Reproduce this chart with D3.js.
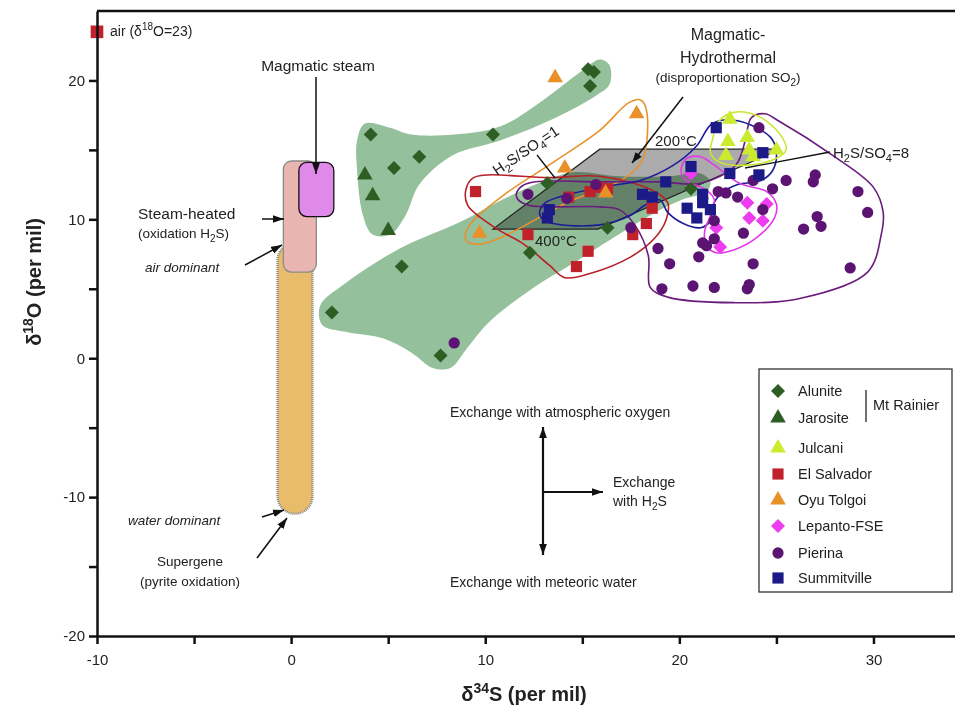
<!DOCTYPE html>
<html>
<head>
<meta charset="UTF-8">
<title>Sulfate isotopes</title>
<script src="https://d3js.org/d3.v7.min.js"></script>
<style>
  body { margin: 0; background: #fff; }
  text { font-family: "Liberation Sans", Arial, Helvetica, sans-serif; fill: #222; }
  .tick text { font-size: 15px; fill: #222; }
  .tick line, .domain { stroke: #111; stroke-width: 2.5; }
</style>
</head>
<body>
<svg id="chart" width="955" height="713"></svg>
<script>
  // ---- data (delta34S, delta18O) ----
  var alunite = [[15.3,20.8],[15.6,20.6],[15.4,19.6],[4.1,16.1],[10.4,16.1],[6.6,14.5],[5.3,13.7],
    [13.2,12.6],[16.3,9.4],[12.3,7.6],[5.7,6.6],[2.1,3.3],[7.7,0.2],[20.6,12.2]];
  var jarosite = [[3.8,13.2],[4.2,11.7],[5.0,9.2]];
  var julcani = [[22.6,17.2],[22.5,15.6],[23.5,15.9],[22.4,14.6],[23.6,15.0],[23.8,14.5],[25.0,15.0]];
  var elSalvador = [[9.5,12.0],[14.3,11.6],[15.4,12.0],[15.9,12.3],[16.3,12.2],[18.6,10.8],[18.3,9.7],
    [17.6,8.9],[12.2,8.9],[15.3,7.7],[14.7,6.6]];
  var oyuTolgoi = [[13.6,20.2],[17.8,17.6],[14.1,13.7],[16.2,11.9],[9.7,9.0]];
  var lepanto = [[20.6,13.3],[23.5,11.2],[24.5,11.1],[23.6,10.1],[24.3,9.9],[21.9,9.4],[22.1,8.0]];
  var pierina = [[12.2,11.8],[15.7,12.5],[14.2,11.5],[17.5,9.4],[8.4,1.1],[24.1,16.6],[25.5,12.8],
    [24.8,12.2],[23.8,12.8],[27.0,13.2],[26.9,12.7],[29.2,12.0],[29.7,10.5],[27.1,10.2],[27.3,9.5],
    [26.4,9.3],[28.8,6.5],[22.0,12.0],[22.4,11.9],[23.0,11.6],[24.3,10.7],[21.8,9.9],[23.3,9.0],
    [21.8,8.6],[21.2,8.3],[21.4,8.1],[21.0,7.3],[23.8,6.8],[19.5,6.8],[18.9,7.9],[19.1,5.0],
    [20.7,5.2],[21.8,5.1],[23.5,5.0],[23.6,5.3]];
  var summitville = [[13.3,10.7],[13.2,10.1],[18.1,11.8],[18.6,11.6],[19.3,12.7],[20.6,13.8],[21.9,16.6],
    [24.3,14.8],[22.6,13.3],[24.1,13.2],[21.2,11.8],[21.2,11.2],[21.6,10.7],[20.4,10.8],[20.9,10.1]];
  var air = [[-10, 23.5]];

  // envelopes
  var greenUpper = [[3.4,15.7],[3.8,16.9],[5.1,16.6],[6.2,16.1],[8.4,16.1],[10.8,16.7],[12.8,18.4],
    [14.9,20.6],[15.9,21.5],[16.4,21.1],[16.4,19.7],[15.7,18.9],[13.6,17.3],[10.8,15.7],[8.3,14.6],
    [6.6,12.5],[5.9,10.3],[5.1,8.9],[4.2,8.9],[3.7,10.3],[3.4,13.5]];
  var greenLower = [[1.5,3.8],[2.8,5.4],[5.6,7.9],[8.7,9.8],[11.0,11.5],[13.1,12.8],[14.6,13.4],
    [16.9,13.1],[19.5,13.1],[21.1,13.3],[21.6,12.7],[21.4,12.0],[20.1,11.4],[18.9,10.6],[16.4,8.5],
    [14.6,6.9],[12.5,5.1],[10.2,2.6],[9.0,0.6],[8.2,-0.7],[7.3,-0.7],[6.2,0.4],[4.8,1.4],[2.8,1.9],[1.6,2.4]];
  var hydroBox = [[10.4,9.3],[15.8,9.3],[25.2,15.05],[15.9,15.05]];
  var oyuEnv = [[9.0,8.5],[9.7,8.2],[11.0,8.8],[14.2,11.2],[17.0,12.8],[18.1,14.3],[18.3,17.9],
    [18.0,18.6],[17.4,18.4],[15.9,16.4],[13.5,14.1],[11.0,11.8],[9.2,9.6]];
  var salvadorEnv = [[9.0,12.1],[9.4,13.0],[13.3,13.0],[15.9,13.1],[18.6,12.1],[19.4,11.2],[19.3,9.9],
    [18.7,8.6],[17.5,7.3],[15.4,6.1],[14.1,5.8],[13.3,6.7],[12.0,8.2],[10.5,9.4],[9.1,11.0]];
  var pierinaEnv = [[11.6,11.8],[11.9,12.4],[12.6,12.7],[15.9,12.7],[19.0,12.7],[21.1,12.6],[22.9,13.9],
    [23.4,15.7],[23.7,17.3],[24.4,17.6],[25.1,17.1],[27.9,14.6],[30.0,12.3],[30.5,10.5],[30.4,8.9],
    [29.7,6.2],[26.2,4.3],[22.8,4.0],[19.4,4.4],[18.5,5.1],[18.4,7.4],[17.7,9.6],[16.9,10.7],
    [15.9,10.9],[12.3,11.0],[11.7,11.4]];
  var summitEnv = [[12.8,10.5],[13.1,11.2],[15.9,12.3],[18.0,12.8],[19.7,13.9],[20.9,15.3],[21.7,16.9],
    [23.0,17.1],[24.7,15.9],[25.0,14.8],[24.8,13.5],[24.2,12.8],[23.0,12.5],[22.1,11.8],[21.7,10.9],
    [21.6,9.9],[21.1,9.4],[20.2,9.7],[19.4,10.5],[19.0,11.4],[18.2,11.0],[17.5,10.3],[15.9,9.6],
    [13.5,9.7],[12.9,10.1]];
  var julcaniEnv = [[21.7,15.7],[22.0,17.0],[22.8,17.7],[24.1,17.4],[25.2,16.1],[25.5,15.0],[25.0,14.4],
    [23.5,13.9],[22.1,14.1],[21.6,14.8]];
  var lepantoEnv = [[20.1,13.7],[20.4,14.4],[21.1,14.5],[21.8,13.9],[23.1,12.6],[24.5,12.0],[25.0,11.1],
    [24.9,10.1],[24.0,8.7],[22.8,7.8],[21.9,7.6],[21.4,8.1],[21.3,9.1],[21.6,10.3],[21.8,11.4],
    [21.4,12.1],[20.6,12.6],[20.2,13.0]];

  // boxes at delta34S ~ 0: [x0, x1, yTop, yBottom]
  var supergeneBar = [-0.7, 1.1, 8.3, -11.2];
  var steamBox = [-0.4, 1.3, 14.2, 6.2];
  var magmaticBox = [0.4, 2.2, 14.1, 10.2];

  var xTicks = [-10, -5, 0, 5, 10, 15, 20, 25, 30];
  var yTicks = [-20, -15, -10, -5, 0, 5, 10, 15, 20];

  // ---- setup ----
  var svg = d3.select('#chart');
  var x = d3.scaleLinear().domain([-10, 34.2]).range([97, 955]);
  var y = d3.scaleLinear().domain([-20, 25]).range([636, 11]);

  var defs = svg.append('defs');
  defs.append('marker')
    .attr('id', 'arrow')
    .attr('viewBox', '0 0 10 7')
    .attr('refX', 10).attr('refY', 3.5)
    .attr('markerUnits', 'userSpaceOnUse')
    .attr('markerWidth', 11).attr('markerHeight', 8)
    .attr('orient', 'auto-start-reverse')
    .append('path').attr('d', 'M0,0L10,3.5L0,7Z').attr('fill', '#111');

  var smooth = d3.line()
    .x(d => x(d[0])).y(d => y(d[1]))
    .curve(d3.curveCatmullRomClosed.alpha(0.5));
  var poly = d3.line().x(d => x(d[0])).y(d => y(d[1])).curve(d3.curveLinearClosed);

  // boxes on the left
  function box(b, fill, stroke, rx, dash, sw) {
    svg.append('rect')
      .attr('x', x(b[0])).attr('y', y(b[2]))
      .attr('width', x(b[1]) - x(b[0])).attr('height', y(b[3]) - y(b[2]))
      .attr('rx', rx).attr('ry', rx)
      .attr('fill', fill).attr('stroke', stroke)
      .attr('stroke-width', sw)
      .attr('stroke-dasharray', dash);
  }
  box(supergeneBar, '#e9bc6c', '#8a8a8a', (x(supergeneBar[1]) - x(supergeneBar[0])) / 2, '1 1', 2.5);
  box(steamBox, '#e8b5b1', '#8a8a8a', 8, null, 1.3);
  box(magmaticBox, '#df89e8', '#111', 8, null, 1.3);

  // green envelopes
  [greenUpper, greenLower].forEach(function (g) {
    svg.append('path').attr('d', smooth(g)).attr('fill', '#94c09b');
  });

  // magmatic-hydrothermal field
  svg.append('path').attr('d', poly(hydroBox))
    .attr('fill', '#ababab').style('mix-blend-mode', 'multiply');
  svg.append('path').attr('d', poly(hydroBox))
    .attr('fill', 'none').attr('stroke', '#222').attr('stroke-width', 1.2);

  // coloured envelopes
  [[oyuEnv, '#e8922c'], [salvadorEnv, '#b82028'], [pierinaEnv, '#6a1c7e'],
   [summitEnv, '#1c1c9a'], [julcaniEnv, '#c8e632'], [lepantoEnv, '#e23ae8']].forEach(function (e) {
    svg.append('path').attr('d', smooth(e[0]))
      .attr('fill', 'none').attr('stroke', e[1]).attr('stroke-width', 1.6);
  });

  // points
  var shapes = {
    diamond: d3.symbol().type(d3.symbolSquare).size(98)(),
    triangle: d3.symbol().type(d3.symbolTriangle).size(105)(),
    square: d3.symbol().type(d3.symbolSquare).size(125)(),
    circle: d3.symbol().type(d3.symbolCircle).size(100)()
  };
  var series = [
    ['Alunite', alunite, 'diamond', '#2e5e24'],
    ['Jarosite', jarosite, 'triangle', '#2e5e24'],
    ['Julcani', julcani, 'triangle', '#cbea30'],
    ['El Salvador', elSalvador, 'square', '#c0212b'],
    ['Oyu Tolgoi', oyuTolgoi, 'triangle', '#e8902a'],
    ['Lepanto-FSE', lepanto, 'diamond', '#ee3cf0'],
    ['Pierina', pierina, 'circle', '#5c1473'],
    ['Summitville', summitville, 'square', '#1b1a86']
  ];
  function place(shape, px, py) {
    return 'translate(' + px + ',' + py + ')' + (shape === 'diamond' ? ' rotate(45)' : '');
  }
  series.forEach(function (s) {
    svg.append('g').selectAll('path').data(s[1]).enter().append('path')
      .attr('d', shapes[s[2]])
      .attr('transform', d => place(s[2], x(d[0]), y(d[1])))
      .attr('fill', s[3]);
  });
  svg.append('g').selectAll('path').data(air).enter().append('path')
    .attr('d', d3.symbol().type(d3.symbolSquare).size(160)())
    .attr('transform', d => place('square', x(d[0]), y(d[1])))
    .attr('fill', '#c0212b');

  // axes
  var yAxis = d3.axisLeft(y).tickValues(yTicks).tickSize(8).tickSizeOuter(0).tickPadding(4)
    .tickFormat(d => d % 10 === 0 ? d : '');
  var xAxis = d3.axisBottom(x).tickValues(xTicks).tickSize(8).tickSizeOuter(0).tickPadding(10)
    .tickFormat(d => d % 10 === 0 ? d : '');
  svg.append('g').attr('transform', 'translate(97,0)').call(yAxis);
  svg.append('g').attr('transform', 'translate(0,636)').call(xAxis);
  svg.append('line').attr('x1', 97).attr('x2', 955).attr('y1', 11).attr('y2', 11)
    .attr('stroke', '#111').attr('stroke-width', 2.5);
  svg.selectAll('.tick text').attr('font-family', '"Liberation Sans", Arial, sans-serif');

  // axis titles
  svg.append('text').attr('transform', 'translate(41,282) rotate(-90)')
    .attr('text-anchor', 'middle').attr('font-size', 20).attr('font-weight', 'bold')
    .html('δ<tspan dy="-8" font-size="14">18</tspan><tspan dy="8">O (per mil)</tspan>');
  svg.append('text').attr('x', 524).attr('y', 701)
    .attr('text-anchor', 'middle').attr('font-size', 20).attr('font-weight', 'bold')
    .html('δ<tspan dy="-8" font-size="14">34</tspan><tspan dy="8">S (per mil)</tspan>');

  // annotations
  function label(tx, ty, html, size, anchor, extra) {
    var t = svg.append('text').attr('x', tx).attr('y', ty)
      .attr('font-size', size).attr('text-anchor', anchor || 'start').html(html);
    if (extra) extra(t);
    return t;
  }
  function arrow(x1, y1, x2, y2) {
    svg.append('line').attr('x1', x1).attr('y1', y1).attr('x2', x2).attr('y2', y2)
      .attr('stroke', '#111').attr('stroke-width', 1.5).attr('marker-end', 'url(#arrow)');
  }
  function rule(x1, y1, x2, y2) {
    svg.append('line').attr('x1', x1).attr('y1', y1).attr('x2', x2).attr('y2', y2)
      .attr('stroke', '#111').attr('stroke-width', 1.3);
  }

  label(110, 36, 'air (δ<tspan dy="-6" font-size="10">18</tspan><tspan dy="6">O=23)</tspan>', 14);
  label(318, 71, 'Magmatic steam', 15.5, 'middle');
  arrow(316, 77, 316, 174);
  label(138, 219, 'Steam-heated', 15.5);
  label(138, 238, '(oxidation H<tspan dy="4" font-size="10">2</tspan><tspan dy="-4">S)</tspan>', 13.5);
  arrow(262, 219, 284, 219);
  label(145, 272, 'air dominant', 13.5, 'start', t => t.attr('font-style', 'italic'));
  arrow(245, 265, 282, 245);
  label(128, 525, 'water dominant', 13.5, 'start', t => t.attr('font-style', 'italic'));
  arrow(262, 517, 284, 510);
  label(190, 566, 'Supergene', 13.5, 'middle');
  label(190, 586, '(pyrite oxidation)', 13.5, 'middle');
  arrow(257, 558, 287, 518);

  label(728, 40, 'Magmatic-', 16, 'middle');
  label(728, 63, 'Hydrothermal', 16, 'middle');
  label(728, 82, '(disproportionation SO<tspan dy="4" font-size="10">2</tspan><tspan dy="-4">)</tspan>', 13.5, 'middle');
  arrow(683, 97, 632, 163);

  label(655, 146, '200°C', 15);
  label(535, 246, '400°C', 15);
  label(497, 176, 'H<tspan dy="4" font-size="11">2</tspan><tspan dy="-4">S/SO</tspan><tspan dy="4" font-size="11">4</tspan><tspan dy="-4">=1</tspan>', 15,
    'start', t => t.attr('transform', 'rotate(-34,497,176)'));
  rule(537, 155, 555, 178);
  label(833, 158, 'H<tspan dy="4" font-size="11">2</tspan><tspan dy="-4">S/SO</tspan><tspan dy="4" font-size="11">4</tspan><tspan dy="-4">=8</tspan>', 15);
  rule(830, 152, 745, 168);

  label(450, 417, 'Exchange with atmospheric oxygen', 14);
  label(450, 587, 'Exchange with meteoric water', 14);
  label(613, 487, 'Exchange', 14);
  label(613, 506, 'with H<tspan dy="4" font-size="10">2</tspan><tspan dy="-4">S</tspan>', 14);
  svg.append('line').attr('x1', 543).attr('y1', 427).attr('x2', 543).attr('y2', 555)
    .attr('stroke', '#111').attr('stroke-width', 2.2)
    .attr('marker-start', 'url(#arrow)').attr('marker-end', 'url(#arrow)');
  svg.append('line').attr('x1', 543).attr('y1', 492).attr('x2', 603).attr('y2', 492)
    .attr('stroke', '#111').attr('stroke-width', 2.2).attr('marker-end', 'url(#arrow)');

  // legend
  var legend = svg.append('g');
  legend.append('rect').attr('x', 759).attr('y', 369).attr('width', 193).attr('height', 223)
    .attr('fill', '#fff').attr('stroke', '#333').attr('stroke-width', 1.3);
  var legendY = [391, 418, 448, 474, 500, 526, 553, 578];
  series.forEach(function (s, i) {
    legend.append('path').attr('d', shapes[s[2]])
      .attr('transform', place(s[2], 778, legendY[i]))
      .attr('fill', s[3]);
    legend.append('text').attr('x', 798).attr('y', legendY[i] + 5)
      .attr('font-size', 14.5).text(s[0]);
  });
  legend.append('line').attr('x1', 866).attr('x2', 866).attr('y1', 390).attr('y2', 422)
    .attr('stroke', '#222').attr('stroke-width', 1.3);
  legend.append('text').attr('x', 873).attr('y', 410).attr('font-size', 14.5).text('Mt Rainier');
</script>
</body>
</html>
